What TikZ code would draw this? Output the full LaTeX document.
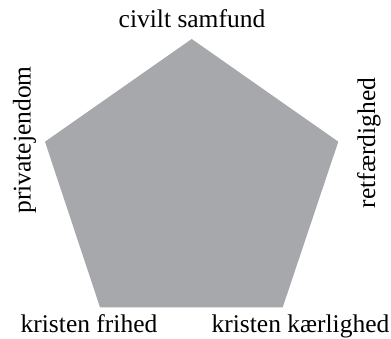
\documentclass[tikz,border=0pt]{standalone}
\usepackage{fontspec}
\setmainfont{Liberation Serif}
\usetikzlibrary{positioning}
\definecolor{pentfill}{HTML}{A7A8AB}
\tikzset{pentlabel/.style={font=\fontsize{25.5}{28}\selectfont,inner sep=0pt},pentside/.style={pentlabel,rotate=90}}

\begin{document}
\begin{tikzpicture}[x=1pt,y=1pt]
\useasboundingbox (0,0) rectangle (391,339);
\coordinate (top) at (191.7,300);
\coordinate (lft) at (45,197.3);
\coordinate (rgt) at (338.3,197.3);
\coordinate (bl) at (100,31.7);
\coordinate (br) at (282.7,31.7);
\fill[pentfill] (top)--(rgt)--(br)--(bl)--(lft)--cycle;
\node[pentlabel,anchor=base] (civ) at (192,311) {civilt samfund};
\node[pentlabel,anchor=base] (fri) at (89,6.5) {kristen frihed};
\node[pentlabel,anchor=base] (kaer) at (300.5,6.5) {kristen kærlighed};
\node[pentside] (priv) at (24.5,199) {privatejendom};
\node[pentside] (ret) at (369,196) {retfærdighed};
\end{tikzpicture}
\end{document}
